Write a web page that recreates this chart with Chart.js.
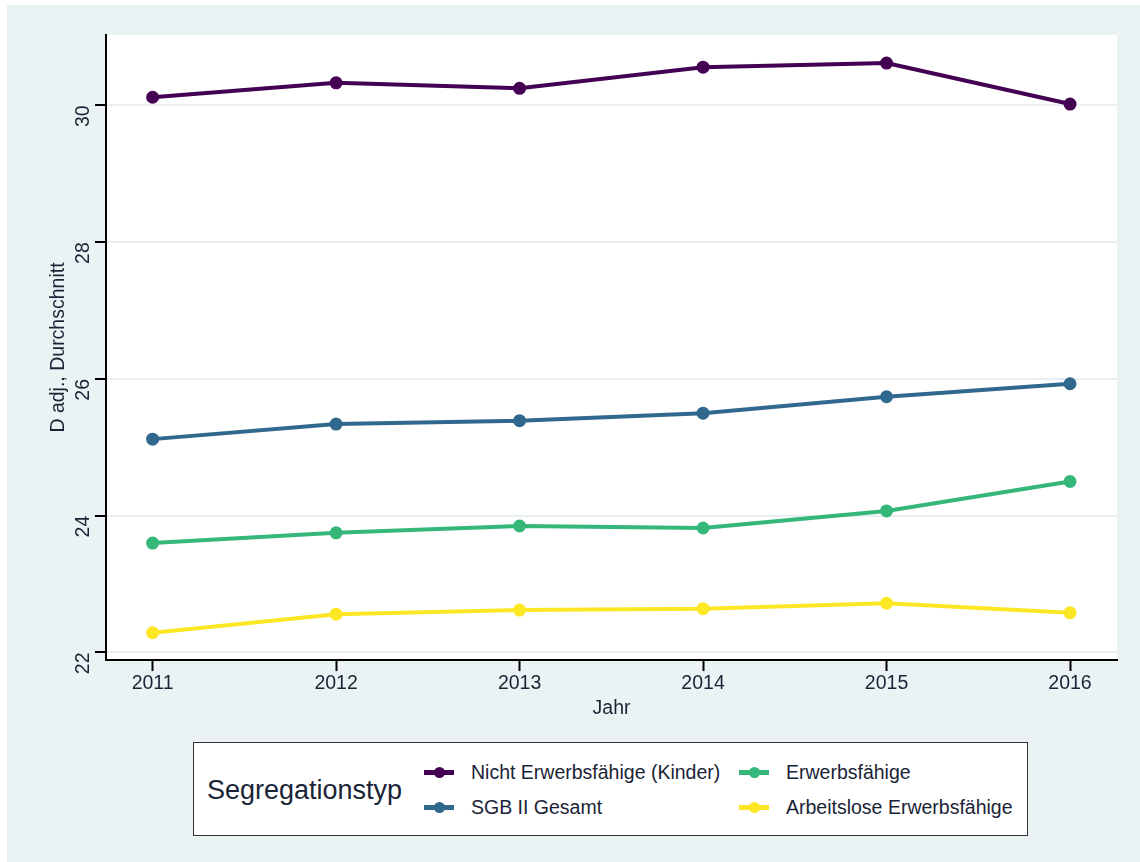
<!DOCTYPE html>
<html>
<head>
<meta charset="utf-8">
<script src="https://cdn.jsdelivr.net/npm/chart.js@4/dist/chart.umd.min.js"></script>
<style>
  html, body { margin: 0; padding: 0; background: #ffffff; }
  #frame {
    position: absolute; left: 7px; top: 5px; width: 1133px; height: 857px;
    background: #eaf2f3;
  }
  #wrap { position: absolute; left: 0; top: 0; width: 1140px; height: 862px; }
  #legend {
    position: absolute; left: 193px; top: 742px; width: 833px; height: 92px;
    background: #fff; border: 1.5px solid #333;
    font-family: "Liberation Sans", Arial, sans-serif; color: #1a2436;
  }
  #legend .title {
    position: absolute; left: 13px; top: 31px; font-size: 27px; line-height: 32px;
  }
  #legend .item { position: absolute; font-size: 19.5px; height: 24px; line-height: 24px; }
  #legend .mark { position: absolute; left: 0; top: 10px; width: 30px; height: 5px; }
  #legend .dot { position: absolute; left: 10px; top: 7px; width: 11px; height: 11px; border-radius: 50%; }
  #legend .lbl { position: absolute; white-space: nowrap; }
</style>
</head>
<body>
<div id="frame"></div>
<div id="wrap"><canvas id="myChart" width="1140" height="862"></canvas></div>
<div id="legend"><div class="title">Segregationstyp</div></div>
<script>
// data
const years = [2011, 2012, 2013, 2014, 2015, 2016];
const seriesNames = ['Nicht Erwerbsfähige (Kinder)', 'SGB II Gesamt', 'Erwerbsfähige', 'Arbeitslose Erwerbsfähige'];
const seriesColors = ['#440154', '#31688e', '#35b779', '#fde725'];

const kinder = [30.12, 30.33, 30.25, 30.56, 30.62, 30.02];
const sgbGesamt = [25.12, 25.34, 25.39, 25.50, 25.74, 25.93];
const erwerbsfaehige = [23.60, 23.75, 23.85, 23.82, 24.07, 24.50];
const arbeitslose = [22.29, 22.56, 22.62, 22.64, 22.72, 22.58];

const yTicks = [22, 24, 26, 28, 30];

const allSeries = [kinder, sgbGesamt, erwerbsfaehige, arbeitslose];

const font = "'Liberation Sans', Arial, sans-serif";
const textColor = '#1a2436';

// white plot background
const plotBg = {
  id: 'plotBg',
  beforeDraw: (chart) => {
    const a = chart.chartArea;
    const ctx = chart.ctx;
    ctx.save();
    ctx.fillStyle = '#ffffff';
    ctx.fillRect(a.left, a.top, a.right - a.left, a.bottom - a.top);
    ctx.restore();
  }
};

const datasets = allSeries.map((vals, i) => ({
  label: seriesNames[i],
  data: vals.map((v, j) => ({ x: years[j], y: v })),
  borderColor: seriesColors[i],
  backgroundColor: seriesColors[i],
  borderWidth: 4,
  pointRadius: 4.5,
  pointHoverRadius: 4.5,
  tension: 0
}));

let ctx = document.getElementById('myChart').getContext('2d');

let myChart = new Chart(ctx, {
  type: 'line',
  data: { datasets: datasets },
  options: {
    responsive: false,
    animation: false,
    layout: { padding: { left: 46, right: 23, top: 35, bottom: 142 } },
    plugins: { legend: { display: false }, tooltip: { enabled: false } },
    scales: {
      x: {
        type: 'linear',
        min: 2010.746,
        max: 2016.256,
        afterFit: (s) => { s.height = 60; },
        ticks: {
          stepSize: 1,
          includeBounds: false,
          padding: 1,
          color: textColor,
          font: { family: font, size: 19.5 },
          callback: (v) => String(v)
        },
        grid: { drawOnChartArea: false, tickLength: 11, tickColor: '#000', tickWidth: 2 },
        border: { display: true, color: '#000', width: 2 },
        title: {
          display: true, text: 'Jahr', color: textColor,
          font: { family: font, size: 19.5 },
          padding: { top: 0, bottom: 0 }
        }
      },
      y: {
        min: 21.89,
        max: 31.03,
        afterFit: (s) => { s.width = 60; },
        afterBuildTicks: (s) => { s.ticks = yTicks.map(v => ({ value: v })); },
        ticks: {
          minRotation: 90,
          maxRotation: 90,
          padding: 11,
          color: textColor,
          font: { family: font, size: 19.5 }
        },
        grid: { color: '#e8eff2', lineWidth: 2, tickLength: 11, tickColor: '#000', tickWidth: 2 },
        border: { display: true, color: '#000', width: 2 },
        title: {
          display: true, text: 'D adj., Durchschnitt', color: textColor,
          font: { family: font, size: 19.5 },
          padding: { top: 1, bottom: 0 }
        }
      }
    }
  },
  plugins: [plotBg]
});

// legend, two rows, filled column by column
const legend = document.getElementById('legend');
const colX = [230, 545];
const rowY = [17, 52];
seriesNames.forEach((name, i) => {
  const item = document.createElement('div');
  item.className = 'item';
  item.style.left = colX[Math.floor(i / 2)] + 'px';
  item.style.top = rowY[i % 2] + 'px';
  item.innerHTML = '<div class="mark" style="background:' + seriesColors[i] + '"></div>' +
    '<div class="dot" style="background:' + seriesColors[i] + '"></div>' +
    '<div class="lbl" style="left:47px">' + name + '</div>';
  legend.appendChild(item);
});
</script>
</body>
</html>
